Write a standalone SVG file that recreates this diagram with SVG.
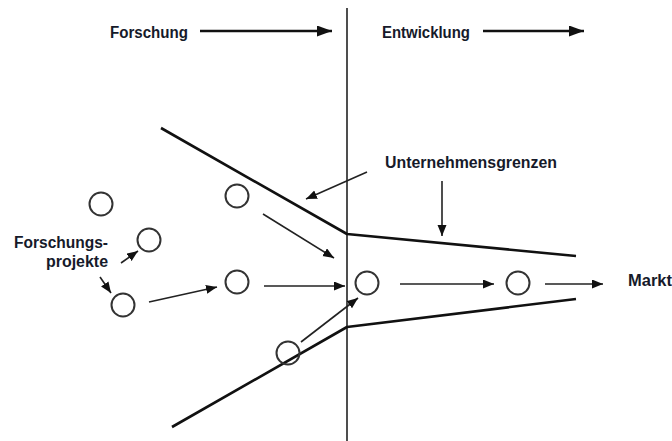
<svg xmlns="http://www.w3.org/2000/svg" width="672" height="441" viewBox="0 0 672 441">
  <style>
    .lbl { font-family: "Liberation Sans", Arial, sans-serif; font-weight: bold; font-size: 16px; fill: #161a2a; }
    .node { fill: #fff; stroke: #333; stroke-width: 2; }
    .bound { fill: none; stroke: #111; stroke-width: 2.6; stroke-linejoin: round; }
    .flow { fill: none; stroke: #222; stroke-width: 1.6; marker-end: url(#ah); }
    .phase { fill: none; stroke: #111; stroke-width: 2.6; marker-end: url(#ahBig); }
  </style>
  <defs>
    <marker id="ah" markerUnits="userSpaceOnUse" markerWidth="12" markerHeight="10" refX="11" refY="4.5" orient="auto">
      <path d="M0,0 L11,4.5 L0,9 Z" fill="#111"/>
    </marker>
    <marker id="ahBig" markerUnits="userSpaceOnUse" markerWidth="16" markerHeight="12" refX="15" refY="5.5" orient="auto">
      <path d="M0,0 L15,5.5 L0,11 Z" fill="#111"/>
    </marker>
  </defs>

  <rect width="672" height="441" fill="#fff"/>

  <!-- phase divider -->
  <line x1="347" y1="8" x2="347" y2="441" stroke="#222" stroke-width="1.6"/>

  <!-- phase headings -->
  <g id="forschung">
    <text class="lbl" x="110" y="38" textLength="78" lengthAdjust="spacingAndGlyphs">Forschung</text>
  </g>
  <g id="entwicklung">
    <text class="lbl" x="382" y="38" textLength="88" lengthAdjust="spacingAndGlyphs">Entwicklung</text>
  </g>

  <!-- company boundaries -->
  <g id="boundaries">
    <polyline class="bound" points="161,128 347,234 576,256"/>
    <polyline class="bound" points="172,427 347,327 576,299"/>
  </g>

  <!-- labels -->
  <g id="unternehmensgrenzen">
    <text class="lbl" x="385" y="168" textLength="172" lengthAdjust="spacingAndGlyphs">Unternehmensgrenzen</text>
  </g>
  <g id="forschungsprojekte">
    <text class="lbl" x="108" y="248" text-anchor="end" textLength="94" lengthAdjust="spacingAndGlyphs">Forschungs-</text>
    <text class="lbl" x="108" y="267" text-anchor="end" textLength="62" lengthAdjust="spacingAndGlyphs">projekte</text>
  </g>
  <g id="markt">
    <text class="lbl" x="628" y="286" textLength="44" lengthAdjust="spacingAndGlyphs">Markt</text>
  </g>

  <!-- project nodes -->
  <g id="p1"><circle class="node" cx="101" cy="204" r="11.5"/></g>
  <g id="p2"><circle class="node" cx="149" cy="240" r="11.5"/></g>
  <g id="p3"><circle class="node" cx="123" cy="305" r="11.5"/></g>
  <g id="p4"><circle class="node" cx="237" cy="196" r="11.5"/></g>
  <g id="p5"><circle class="node" cx="237" cy="282" r="11.5"/></g>
  <!-- sits on the lower boundary, which stays visible through it -->
  <g id="p6"><circle class="node" cx="288" cy="353" r="11.5" style="fill:none"/></g>
  <g id="p7"><circle class="node" cx="367" cy="283" r="11.5"/></g>
  <g id="p8"><circle class="node" cx="518" cy="283" r="11.5"/></g>

  <!-- connectors -->
  <g id="connectors">
    <line class="phase" x1="200" y1="31" x2="332" y2="31"/>
    <line class="phase" x1="483" y1="31" x2="584" y2="31"/>
    <line class="flow" x1="367" y1="172" x2="306" y2="199"/>
    <line class="flow" x1="442" y1="181" x2="442" y2="236"/>
    <line class="flow" x1="121" y1="263" x2="138" y2="251"/>
    <line class="flow" x1="100" y1="277" x2="111" y2="293"/>
    <line class="flow" x1="149" y1="302" x2="217" y2="287"/>
    <line class="flow" x1="264" y1="286" x2="345" y2="286"/>
    <line class="flow" x1="263" y1="214" x2="334" y2="258"/>
    <line class="flow" x1="301" y1="342" x2="358" y2="298"/>
    <line class="flow" x1="400" y1="284" x2="494" y2="284"/>
    <line class="flow" x1="545" y1="284" x2="603" y2="284"/>
  </g>
</svg>
